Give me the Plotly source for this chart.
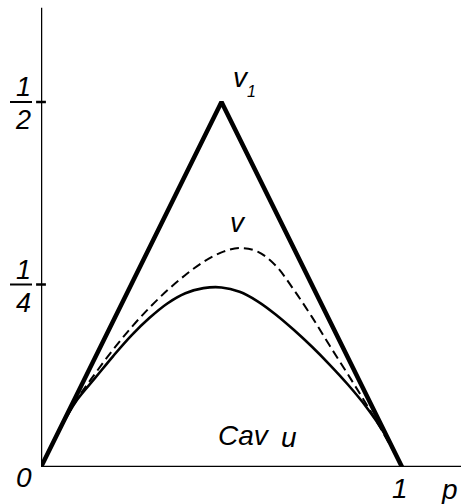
import plotly.graph_objects as go

# Piecewise-linear upper bound v1 (tent over [0, 1])
p_tent = [0.0, 0.5, 1.0]
v1_tent = [0.0, 0.5, 0.0]

# Grid of p values for the two curves
p_grid = [0.0, 0.05, 0.10, 0.15, 0.20, 0.25, 0.30, 0.35, 0.40, 0.45, 0.50,
          0.55, 0.60, 0.65, 0.70, 0.75, 0.80, 0.85, 0.90, 0.95, 1.0]
# Dashed curve v
v_vals = [0.0, 0.050, 0.093, 0.128, 0.161, 0.191, 0.218, 0.242, 0.263, 0.281, 0.294,
          0.300, 0.295, 0.276, 0.243, 0.206, 0.166, 0.127, 0.087, 0.045, 0.0]
# Solid curve Cav u
cav_u_vals = [0.0, 0.050, 0.092, 0.122, 0.152, 0.180, 0.204, 0.224, 0.238, 0.245, 0.246,
              0.240, 0.227, 0.209, 0.188, 0.165, 0.140, 0.113, 0.083, 0.047, 0.0]

# Axis marks
y_ticks = [0.25, 0.5]
y_tick_num = ["1", "1"]
y_tick_den = ["4", "2"]

X_MAX = 420 / 361
Y_MAX = 467 / 730
Y_AXIS_TOP = 0.629

FONT = "Liberation Sans Narrow, Liberation Sans, Arial, sans-serif"
INK = "#000000"

fig = go.Figure()

fig.add_trace(go.Scatter(x=p_grid, y=cav_u_vals, mode="lines", line_shape="spline",
                         line=dict(color=INK, width=2.6), hoverinfo="skip"))
fig.add_trace(go.Scatter(x=p_grid, y=v_vals, mode="lines", line_shape="spline",
                         line=dict(color=INK, width=2.0, dash="9px,5px"), hoverinfo="skip"))
fig.add_trace(go.Scatter(x=p_tent, y=v1_tent, mode="lines",
                         line=dict(color=INK, width=4.5), hoverinfo="skip"))
# tick dots on the vertical axis
fig.add_trace(go.Scatter(x=[0] * len(y_ticks), y=y_ticks, mode="markers",
                         marker=dict(symbol="line-ew", size=7, line=dict(color=INK, width=2.5)),
                         hoverinfo="skip", cliponaxis=False))

shapes = [
    dict(type="line", xref="x", yref="y", x0=0, x1=0, y0=0, y1=Y_AXIS_TOP,
         line=dict(color=INK, width=2.5)),
    dict(type="line", xref="x", yref="y", x0=0, x1=X_MAX, y0=0, y1=0,
         line=dict(color=INK, width=2.5)),
]
annotations = []

def label(text, x, y, size, dx=0, dy=0):
    annotations.append(dict(text=f"<i>{text}</i>", x=x, y=y, xref="x", yref="y",
                            xshift=dx, yshift=dy, showarrow=False,
                            font=dict(family=FONT, size=size, color=INK),
                            xanchor="center", yanchor="middle"))

# fractions on the vertical axis
for yt, num, den in zip(y_ticks, y_tick_num, y_tick_den):
    label(num, 0, yt, 27, dx=-18, dy=15)
    label(den, 0, yt, 27, dx=-18, dy=-18)
    shapes.append(dict(type="line", xref="paper", yref="paper", xsizemode="pixel", xanchor=0,
                       x0=-31, x1=-9, y0=yt / Y_MAX, y1=yt / Y_MAX,
                       line=dict(color=INK, width=2)))

label("0", 0, 0, 28, dx=-17, dy=-10)
label("1", 1, 0, 28, dx=-2, dy=-21)
label("p", 1, 0, 28, dx=47, dy=-22)

label("v", p_tent[1], v1_tent[1], 28, dx=19, dy=25)
label("1", p_tent[1], v1_tent[1], 16, dx=30, dy=11)
label("v", p_grid[11], v_vals[11], 28, dx=-2, dy=26)
label("Cav", 0.55, 0.0, 28, dx=4, dy=32)
label("u", 0.55, 0.0, 28, dx=49, dy=30)

fig.update_layout(
    width=461, height=504,
    margin=dict(l=41, r=0, t=0, b=37),
    paper_bgcolor="white", plot_bgcolor="white",
    showlegend=False,
    shapes=shapes, annotations=annotations,
    xaxis=dict(range=[0, X_MAX], visible=False, fixedrange=True),
    yaxis=dict(range=[0, Y_MAX], visible=False, fixedrange=True),
)

fig.write_html("out.html", config={"displayModeBar": False})
